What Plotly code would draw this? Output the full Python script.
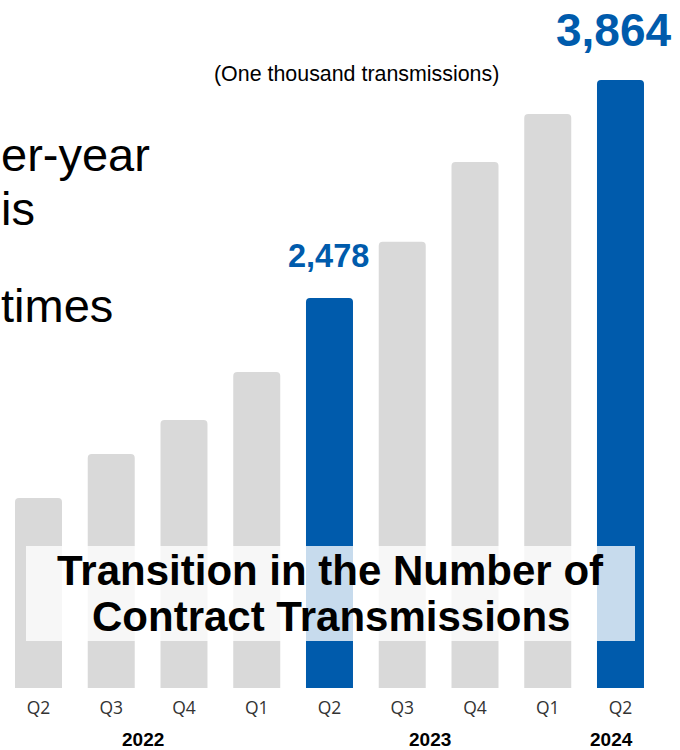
import plotly.graph_objects as go

# Quarterly contract transmissions (thousands)
quarters = ["Q2", "Q3", "Q4", "Q1", "Q2", "Q3", "Q4", "Q1", "Q2"]
years = ["2022", "2022", "2022", "2023", "2023", "2023", "2023", "2024", "2024"]
transmissions = [1207, 1487, 1703, 2008, 2478, 2835, 3343, 3648, 3864]
highlight = [False, False, False, False, True, False, False, False, True]

year_labels = ["2022", "2023", "2024"]
year_label_pos = [1.44, 5.38, 7.88]

title_lines = ["Transition in the Number of", "Contract Transmissions"]
body_lines = ["er-year", "is", "times"]

BLUE = "#005BAC"
GRAY = "#D9D9D9"
W, H = 680, 750
PLOT_BOTTOM = 688  # pixel row of the bar baseline
FONT = "Liberation Sans, Arial, sans-serif"

x_idx = list(range(len(quarters)))
colors = [BLUE if h else GRAY for h in highlight]

fig = go.Figure(
    go.Bar(
        x=x_idx,
        y=transmissions,
        marker=dict(color=colors, line=dict(width=0), cornerradius=4),
        width=0.646,
        hoverinfo="skip",
    )
)


def py(px):
    """Convert a pixel row to paper y coordinate."""
    return (PLOT_BOTTOM - px) / PLOT_BOTTOM


annotations = []

# Value callouts on the highlighted bars
label_style = {4: dict(size=32.5, yshift=22, xshift=-1), 8: dict(size=46, yshift=22, xshift=-6)}
for i, v in enumerate(transmissions):
    if highlight[i]:
        st = label_style[i]
        annotations.append(dict(
            x=i, y=v, xref="x", yref="y", text=f"{v:,}", showarrow=False,
            yanchor="bottom", yshift=st["yshift"], xshift=st["xshift"],
            font=dict(family=FONT, size=st["size"], color=BLUE, weight="bold"),
        ))

# Year labels under the quarter ticks
for lbl, pos in zip(year_labels, year_label_pos):
    annotations.append(dict(
        x=pos, y=py(739), xref="x", yref="paper", text=lbl, showarrow=False,
        yanchor="middle", xanchor="center",
        font=dict(family=FONT, size=19, color="#000000", weight="bold"),
    ))

# Unit note
annotations.append(dict(
    x=212 / W, y=py(74), xref="paper", yref="paper", text="(One thousand transmissions)",
    showarrow=False, xanchor="left", yanchor="middle",
    font=dict(family=FONT, size=21.4, color="#000000"),
))

# Body text running in from the left edge
for txt, row in zip(body_lines, [155, 208, 305]):
    annotations.append(dict(
        x=0, y=py(row), xref="paper", yref="paper", text=txt, showarrow=False,
        xanchor="left", yanchor="middle", borderpad=0,
        font=dict(family=FONT, size=47, color="#000000"),
    ))

# Chart title over a translucent panel
for txt, row, cx in zip(title_lines, [570, 616], [330, 331]):
    annotations.append(dict(
        x=cx / W, y=py(row), xref="paper", yref="paper", text=txt,
        showarrow=False, xanchor="center", yanchor="middle",
        font=dict(family=FONT, size=42, color="#000000", weight="bold"),
    ))

shapes = [dict(
    type="rect", xref="paper", yref="paper",
    x0=26 / W, x1=635 / W, y0=py(641), y1=py(546),
    fillcolor="rgba(255,255,255,0.78)", line=dict(width=0), layer="above",
)]

fig.update_layout(
    width=W, height=H,
    margin=dict(l=0, r=0, t=0, b=H - PLOT_BOTTOM, pad=0),
    paper_bgcolor="white", plot_bgcolor="white",
    showlegend=False,
    bargap=0.354,
    xaxis=dict(
        range=[-0.529, 8.818], tickmode="array", tickvals=x_idx, ticktext=quarters,
        showgrid=False, zeroline=False, showline=False, ticks="",
        tickfont=dict(family="Open Sans, Noto Sans, sans-serif", size=17.5, color="#333333"),
        ticklabelstandoff=7, fixedrange=True,
    ),
    yaxis=dict(range=[0, 4372], visible=False, fixedrange=True),
    annotations=annotations,
    shapes=shapes,
)

fig.write_html("out.html")
